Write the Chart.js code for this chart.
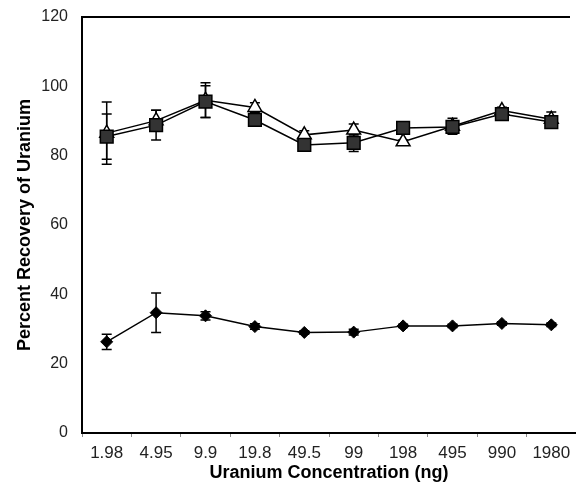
<!DOCTYPE html>
<html>
<head>
<meta charset="utf-8">
<script src="https://cdn.jsdelivr.net/npm/chart.js@4"></script>
<style>
  html, body { margin: 0; padding: 0; background: #fff; overflow: hidden; }
  #wrap { width: 576px; height: 482px; }
</style>
</head>
<body>
<div id="wrap"><canvas id="myChart" width="576" height="482"></canvas></div>
<script>
const labels = ['1.98', '4.95', '9.9', '19.8', '49.5', '99', '198', '495', '990', '1980'];
const yTicks = [0, 20, 40, 60, 80, 100, 120];

// filled squares
const squares = [85.5, 88.8, 95.6, 90.3, 83.1, 83.7, 88.0, 88.3, 92.0, 89.7];
const squareErr = [6.5, 4.3, 4.6, 1.5, 1.5, 2.5, 1.0, 1.5, 1.5, 1.5];
// open triangles
const triangles = [86.5, 90.1, 96.0, 93.9, 86.0, 87.4, 84.0, 88.5, 93.0, 90.5];
const triangleErr = [9.0, 3.0, 5.0, 1.4, 1.2, 1.7, 0.5, 2.3, 1.0, 2.1];
// filled diamonds
const diamonds = [26.3, 34.7, 33.8, 30.7, 29.0, 29.1, 30.9, 30.9, 31.6, 31.2];
const diamondErr = [2.2, 5.7, 1.2, 0.8, 0.5, 0.8, 0.5, 0.5, 0.5, 0.5];

const FONT = 'Arial, "Liberation Sans", sans-serif';

// error bars + top frame line, drawn with the chart's own scales
const errorBars = {
  id: 'errorBars',
  beforeDatasetsDraw(chart) {
    const ctx = chart.ctx;
    const x = chart.scales.x, y = chart.scales.y;
    ctx.save();
    ctx.strokeStyle = '#000';
    ctx.lineWidth = 1.5;
    chart.data.datasets.forEach(function (ds) {
      for (let i = 0; i < ds.data.length; i++) {
        let px = x.getPixelForValue(i);
        let top = y.getPixelForValue(ds.data[i] + ds.err[i]);
        let bot = y.getPixelForValue(ds.data[i] - ds.err[i]);
        ctx.beginPath();
        ctx.moveTo(px, top); ctx.lineTo(px, bot);
        ctx.moveTo(px - 5, top); ctx.lineTo(px + 5, top);
        ctx.moveTo(px - 5, bot); ctx.lineTo(px + 5, bot);
        ctx.stroke();
      }
    });
    // top frame line
    ctx.lineWidth = 2;
    ctx.beginPath();
    ctx.moveTo(chart.chartArea.left, chart.chartArea.top);
    ctx.lineTo(570, chart.chartArea.top);
    ctx.stroke();
    ctx.restore();
  }
};

new Chart("myChart", {
  type: "line",
  data: {
    labels: labels,
    datasets: [{
      data: squares,
      err: squareErr,
      borderColor: '#000',
      borderWidth: 1.5,
      pointStyle: 'rect',
      pointRadius: 9,
      pointBackgroundColor: '#333',
      pointBorderColor: '#000',
      pointBorderWidth: 1.5,
      fill: false
    }, {
      data: triangles,
      err: triangleErr,
      borderColor: '#000',
      borderWidth: 1.5,
      pointStyle: 'triangle',
      pointRadius: 8,
      pointBackgroundColor: '#fff',
      pointBorderColor: '#000',
      pointBorderWidth: 1.5,
      fill: false
    }, {
      data: diamonds,
      err: diamondErr,
      borderColor: '#000',
      borderWidth: 1.5,
      pointStyle: 'rectRot',
      pointRadius: 6,
      pointBackgroundColor: '#000',
      pointBorderColor: '#000',
      pointBorderWidth: 1,
      fill: false
    }]
  },
  options: {
    responsive: false,
    animation: false,
    layout: { autoPadding: false, padding: { left: 0, right: -2, top: 17, bottom: 0 } },
    plugins: {
      legend: { display: false },
      tooltip: { enabled: false }
    },
    scales: {
      x: {
        offset: true,
        afterFit(axis) { axis.height = 49; axis.paddingLeft = 0; axis.paddingRight = 0; },
        grid: { display: true, drawOnChartArea: false, drawTicks: true, tickLength: 4, color: '#888', offset: true },
        border: { display: true, color: '#000', width: 2 },
        ticks: { color: '#222', font: { family: FONT, size: 17 }, padding: 6, maxRotation: 0, autoSkip: false },
        title: { display: true, text: 'Uranium Concentration (ng)', color: '#000', font: { family: FONT, size: 18, weight: 'bold' }, padding: { top: 0, bottom: -2 } }
      },
      y: {
        min: 0,
        max: 120,
        afterBuildTicks(axis) { axis.ticks = yTicks.map(v => ({ value: v })); },
        afterFit(axis) { axis.width = 82; axis.paddingTop = 0; axis.paddingBottom = 0; },
        grid: { display: false, drawTicks: false },
        border: { display: true, color: '#000', width: 2 },
        ticks: { color: '#222', font: { family: FONT, size: 16 }, padding: 14 },
        title: { display: true, text: 'Percent Recovery of Uranium', color: '#000', font: { family: FONT, size: 18, weight: 'bold' }, padding: { top: 14, bottom: 0 } }
      }
    }
  },
  plugins: [errorBars]
});
</script>
</body>
</html>
